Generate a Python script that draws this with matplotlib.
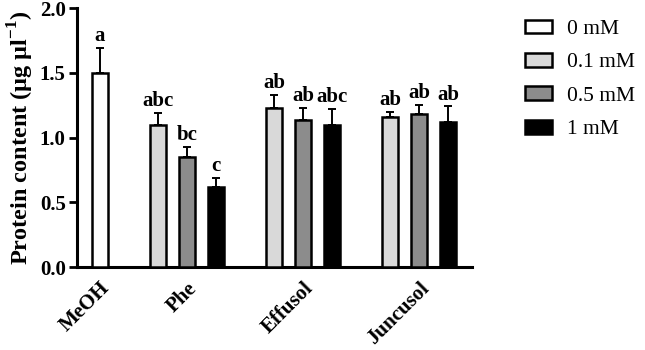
import numpy as np
import matplotlib.pyplot as plt

plt.rcParams["font.family"] = ["Liberation Serif", "DejaVu Serif"]
plt.rcParams["mathtext.fontset"] = "custom"
plt.rcParams["mathtext.rm"] = "Liberation Serif:bold"
plt.rcParams["mathtext.bf"] = "Liberation Serif:bold"

groups = ["MeOH", "Phe", "Effusol", "Juncusol"]
series = ["0 mM", "0.1 mM", "0.5 mM", "1 mM"]
colors = ["white", "#d9d9d9", "#8c8c8c", "black"]

# one entry per bar: group, series, mean, sd, letter
group_idx = [0, 1, 1, 1, 2, 2, 2, 3, 3, 3]
series_idx = [0, 1, 2, 3, 1, 2, 3, 1, 2, 3]
means = [1.50, 1.10, 0.85, 0.62, 1.225, 1.135, 1.10, 1.16, 1.18, 1.12]
errs = [0.19, 0.09, 0.08, 0.07, 0.105, 0.09, 0.12, 0.04, 0.07, 0.12]
letters = ["a", "abc", "bc", "c", "ab", "ab", "abc", "ab", "ab", "ab"]

fig = plt.figure(figsize=(6.45, 3.5), dpi=100)
ax = fig.add_axes([0.119, 0.237, 0.613, 0.74])

group_start = [0, 1, 5, 9]
pos = [group_start[g] + s for g, s in zip(group_idx, series_idx)]
width = 0.57

for p, s, m, e, lab in zip(pos, series_idx, means, errs, letters):
    ax.bar(p, m, width, color=colors[s], edgecolor="black", linewidth=1.8, zorder=3)
    ax.errorbar(p, m, yerr=[[0], [e]], fmt="none", ecolor="black",
                elinewidth=1.4, capsize=3, capthick=1.4, zorder=2)
    ax.text(p, m + e + 0.015, lab, ha="center", va="bottom",
            fontsize=15, fontweight="bold")

for s in range(4):
    ax.bar(0, 0, 0, color=colors[s], edgecolor="black", linewidth=1.8, label=series[s])

centers = [0, 3, 7, 11]
ax.set_xticks(centers)
ax.set_xticklabels(groups, rotation=45, ha="right", rotation_mode="anchor",
                   fontsize=15, fontweight="bold")
ax.tick_params(axis="x", length=0, pad=8)
ax.set_xlim(-0.8, 12.83)
ax.set_ylim(0, 2.0)
ax.set_yticks([0, 0.5, 1.0, 1.5, 2.0])
ax.set_yticklabels(["0.0", "0.5", "1.0", "1.5", "2.0"], fontsize=15, fontweight="bold")
ax.tick_params(axis="y", width=2, length=6, pad=2)
ax.set_ylabel("Protein content (\u03bcg \u03bcl$^{-1}$)",
              fontsize=17.5, fontweight="bold", labelpad=3)

for side in ["top", "right"]:
    ax.spines[side].set_visible(False)
for side in ["left", "bottom"]:
    ax.spines[side].set_linewidth(2.2)

ax.legend(loc="upper left", bbox_to_anchor=(1.085, 1.03), frameon=False,
          fontsize=15.5, handlelength=1.25, handleheight=0.6, labelspacing=0.65,
          handletextpad=0.7)

fig.savefig("out.png", dpi=100)
